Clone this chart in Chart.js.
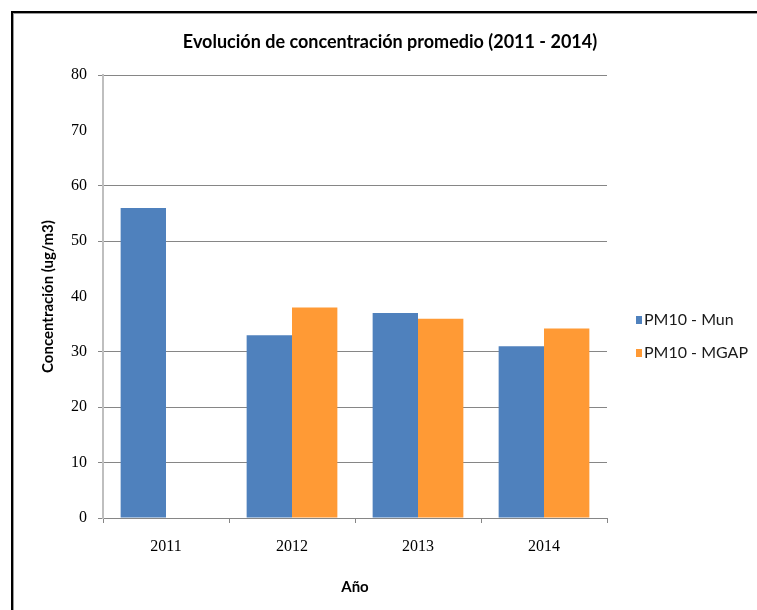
<!DOCTYPE html>
<html>
<head>
<meta charset="utf-8">
<script src="https://cdn.jsdelivr.net/npm/chart.js@4/dist/chart.umd.min.js"></script>
<style>
  html, body { margin: 0; padding: 0; background: #fff; }
  #wrap { position: relative; width: 757px; height: 610px; overflow: hidden; }
  #chart { position: absolute; left: 0; top: 0; }
  #frame { position: absolute; left: 11px; top: 11px; right: -10px; bottom: -10px;
           border-left: 2px solid #000; border-top: 2px solid #000; pointer-events: none; }
  #frame::after { content: ""; position: absolute; left: 0; top: 0; right: 0; bottom: 0;
           border-left: 1px solid #9a9a9a; border-top: 1px solid #9a9a9a; }
</style>
</head>
<body>
<div id="wrap">
  <canvas id="chart" width="757" height="610"></canvas>
  <div id="frame"></div>
</div>
<script>
// Average PM10 concentration per year, two monitoring networks
const years = ['2011', '2012', '2013', '2014'];
const pm10Mun = [56, 33, 37, 31];
const pm10Mgap = [null, 38, 36, 34.2];
const seriesNames = ['PM10 - Mun', 'PM10 - MGAP'];
const seriesColors = ['#4F81BD', '#FF9A35'];
const yTicks = [0, 10, 20, 30, 40, 50, 60, 70, 80];

const chartTitle = 'Evolución de concentración promedio (2011 - 2014)';
const GRID = '#868686';

// Title text and the side legend
const decor = {
  id: 'decor',
  afterDraw(chart) {
    const ctx = chart.ctx;
    ctx.save();
    ctx.fillStyle = '#000';
    ctx.font = 'bold 18px Lato';
    ctx.textAlign = 'center';
    ctx.textBaseline = 'middle';
    ctx.fillText(chartTitle, 390, 42);

    ctx.font = '16px Lato';
    ctx.textAlign = 'left';
    chart.data.datasets.forEach((ds, i) => {
      const y = 320 + i * 33;
      ctx.fillStyle = ds.backgroundColor;
      ctx.fillRect(636, y - 4, 6, 8);
      ctx.fillStyle = '#1a1a1a';
      ctx.fillText(ds.label, 644, y);
    });
    ctx.restore();
  }
};

new Chart(document.getElementById('chart'), {
  type: 'bar',
  data: {
    labels: years,
    datasets: [
      { label: seriesNames[0], data: pm10Mun, backgroundColor: seriesColors[0] },
      { label: seriesNames[1], data: pm10Mgap, backgroundColor: seriesColors[1] }
    ]
  },
  options: {
    responsive: false,
    animation: false,
    events: [],
    layout: { padding: { left: 0, right: 150, top: 75, bottom: 0 } },
    datasets: { bar: { categoryPercentage: 0.72, barPercentage: 1.0 } },
    plugins: { legend: { display: false }, title: { display: false }, tooltip: { enabled: false } },
    scales: {
      x: {
        afterFit(scale) { scale.height = 92; },
        grid: { offset: true, drawOnChartArea: false, tickLength: 5, color: GRID },
        border: { color: GRID, width: 1 },
        ticks: { color: '#000', padding: 14, font: { family: 'Liberation Serif', size: 16 } },
        title: { display: true, text: 'Año', color: '#000', padding: { top: 0, bottom: 14 },
                 font: { family: 'Lato', weight: 'bold', size: 15 } }
      },
      y: {
        min: 0, max: 80,
        afterFit(scale) { scale.width = 103; },
        afterBuildTicks(scale) { scale.ticks = yTicks.map(v => ({ value: v })); },
        grid: {
          tickLength: 5,
          color: (c) => (c.tick && (c.tick.value === 70 || c.tick.value === 40)) ? 'rgba(0,0,0,0)' : GRID
        },
        border: { color: '#BFBFBF', width: 2 },
        ticks: { color: '#000', padding: 11, font: { family: 'Liberation Serif', size: 16 } },
        title: { display: true, text: 'Concentración (ug/m3)', color: '#000', padding: { top: 39, bottom: 0 },
                 font: { family: 'Lato', weight: 'bold', size: 15 } }
      }
    }
  },
  plugins: [decor]
});
</script>
</body>
</html>
